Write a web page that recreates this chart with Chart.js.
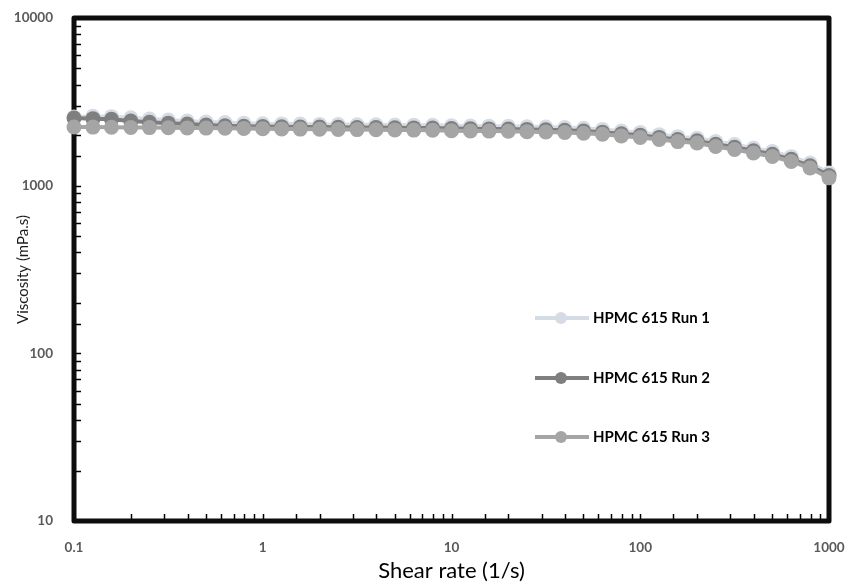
<!DOCTYPE html>
<html>
<head>
<meta charset="utf-8">
<script src="https://cdn.jsdelivr.net/npm/chart.js@4.4.1/dist/chart.umd.min.js"></script>
<style>
    html, body { margin: 0; padding: 0; background: #fff; }
    #wrap { position: relative; width: 850px; height: 585px; }
    #legend { position: absolute; left: 535px; top: 308px; font-family: Lato, "Open Sans", sans-serif; }
    .row { position: relative; height: 20px; margin-bottom: 39.5px; }
    .row .ln { position: absolute; left: 0; top: 8px; width: 54px; height: 4px; }
    .row .dot { position: absolute; left: 20px; top: 4px; width: 12px; height: 12px; border-radius: 50%; }
    .row .txt { position: absolute; left: 58px; top: 0px; font-weight: bold; font-size: 15px; color: #000; white-space: nowrap; }
</style>
</head>
<body>
<div id="wrap">
    <canvas id="viscChart" width="850" height="585"></canvas>
    <div id="legend"></div>
</div>
<script>
// taux de cisaillement (1/s)
const shearRates = [0.1, 0.126, 0.158, 0.2, 0.251, 0.316, 0.398, 0.501, 0.631, 0.794,
    1, 1.26, 1.58, 2, 2.51, 3.16, 3.98, 5.01, 6.31, 7.94,
    10, 12.6, 15.8, 20, 25.1, 31.6, 39.8, 50.1, 63.1, 79.4,
    100, 126, 158, 200, 251, 316, 398, 501, 631, 794, 1000];

// viscosité (mPa.s)
const run1 = [2570, 2590, 2580, 2540, 2500, 2460, 2430, 2400, 2380, 2360,
    2340, 2335, 2330, 2320, 2315, 2310, 2305, 2300, 2295, 2290,
    2275, 2270, 2265, 2260, 2245, 2235, 2220, 2200, 2165, 2120,
    2075, 2015, 1960, 1920, 1835, 1760, 1675, 1600, 1490, 1365, 1190];
const run2 = [2530, 2510, 2490, 2430, 2390, 2360, 2330, 2300, 2275, 2260,
    2250, 2245, 2240, 2235, 2230, 2225, 2220, 2215, 2210, 2205,
    2190, 2185, 2180, 2175, 2165, 2155, 2140, 2120, 2085, 2040,
    2000, 1940, 1885, 1850, 1765, 1695, 1615, 1540, 1435, 1315, 1150];
const run3 = [2240, 2235, 2230, 2225, 2220, 2215, 2210, 2205, 2200, 2195,
    2185, 2180, 2175, 2170, 2165, 2160, 2155, 2150, 2145, 2140,
    2125, 2120, 2115, 2110, 2100, 2090, 2075, 2055, 2025, 1980,
    1940, 1885, 1832, 1795, 1713, 1644, 1567, 1493, 1394, 1274, 1113];

const seriesNames = ["HPMC 615 Run 1", "HPMC 615 Run 2", "HPMC 615 Run 3"];
const seriesColors = ["#d6dce5", "#7f7f7f", "#a5a5a5"];
const seriesData = [run1, run2, run3];

const xTicks = [0.1, 1, 10, 100, 1000];
const yTicks = [10, 100, 1000, 10000];

const FONT = 'Lato, "Open Sans", sans-serif';

function isDecade(v) {
    const l = Math.log10(v);
    return Math.abs(l - Math.round(l)) < 1e-6;
}

// cadre noir épais + petites graduations vers l'intérieur
const framePlugin = {
    id: "frame",
    beforeDatasetsDraw(chart) {
        const { ctx, chartArea: a, scales } = chart;
        ctx.save();
        ctx.strokeStyle = "#000";
        ctx.lineWidth = 1.5;
        scales.y.ticks.forEach(t => {
            const py = Math.round(scales.y.getPixelForValue(t.value)) + 0.5;
            ctx.beginPath();
            ctx.moveTo(a.left, py);
            ctx.lineTo(a.left + 7, py);
            ctx.stroke();
        });
        scales.x.ticks.forEach(t => {
            const px = Math.round(scales.x.getPixelForValue(t.value)) + 0.5;
            ctx.beginPath();
            ctx.moveTo(px, a.bottom);
            ctx.lineTo(px, a.bottom - 7);
            ctx.stroke();
        });
        ctx.lineWidth = 5;
        ctx.lineJoin = "round";
        ctx.strokeStyle = "#0d0d0d";
        ctx.strokeRect(a.left, a.top, a.right - a.left, a.bottom - a.top);
        ctx.restore();
    }
};

const datasets = seriesData.map((d, i) => ({
    label: seriesNames[i],
    data: shearRates.map((x, k) => ({ x: x, y: d[k] })),
    borderColor: seriesColors[i],
    backgroundColor: seriesColors[i],
    pointBackgroundColor: seriesColors[i],
    pointBorderColor: seriesColors[i],
    pointBorderWidth: 0,
    pointRadius: 7.5,
    borderWidth: 4,
    tension: 0,
    clip: false,
    order: 3 - i
}));

new Chart(document.getElementById("viscChart"), {
    type: "line",
    data: { datasets: datasets },
    plugins: [framePlugin],
    options: {
        responsive: false,
        animation: false,
        events: [],
        layout: { padding: { top: 18, right: 21, left: 0, bottom: 0 } },
        plugins: { legend: { display: false }, tooltip: { enabled: false } },
        scales: {
            x: {
                type: "logarithmic",
                min: 0.1,
                max: 1000,
                grid: { display: false, drawTicks: false },
                border: { display: false },
                ticks: {
                    autoSkip: false,
                    maxRotation: 0,
                    padding: 19,
                    color: "#595959",
                    font: { family: FONT, size: 13.5, weight: "bold" },
                    callback: v => (isDecade(v) && xTicks.some(t => Math.abs(t - v) / t < 1e-6)) ? String(Number(v.toPrecision(3))) : ""
                },
                title: {
                    display: true,
                    text: "Shear rate (1/s)",
                    color: "#000",
                    font: { family: FONT, size: 22 },
                    padding: { top: 0, bottom: 1 }
                },
                afterFit: s => { s.height = 64; s.paddingLeft = 0; s.paddingRight = 0; }
            },
            y: {
                type: "logarithmic",
                min: 10,
                max: 10000,
                grid: { display: false, drawTicks: false },
                border: { display: false },
                ticks: {
                    autoSkip: false,
                    padding: 21,
                    color: "#595959",
                    font: { family: FONT, size: 13.5, weight: "bold" },
                    callback: v => (isDecade(v) && yTicks.some(t => Math.abs(t - v) / t < 1e-6)) ? String(Math.round(v)) : ""
                },
                title: {
                    display: true,
                    text: "Viscosity (mPa.s)",
                    color: "#1a1a1a",
                    font: { family: FONT, size: 15 },
                    padding: { top: 14, bottom: 0 }
                },
                afterFit: s => { s.width = 74; s.paddingTop = 0; s.paddingBottom = 0; }
            }
        }
    }
});

// légende HTML à l'intérieur du graphique
const legendEl = document.getElementById("legend");
legendEl.innerHTML = seriesNames.map((n, i) =>
    `<div class="row"><div class="ln" style="background:${seriesColors[i]}"></div>` +
    `<div class="dot" style="background:${seriesColors[i]}"></div>` +
    `<div class="txt">${n}</div></div>`
).join("");
</script>
</body>
</html>
